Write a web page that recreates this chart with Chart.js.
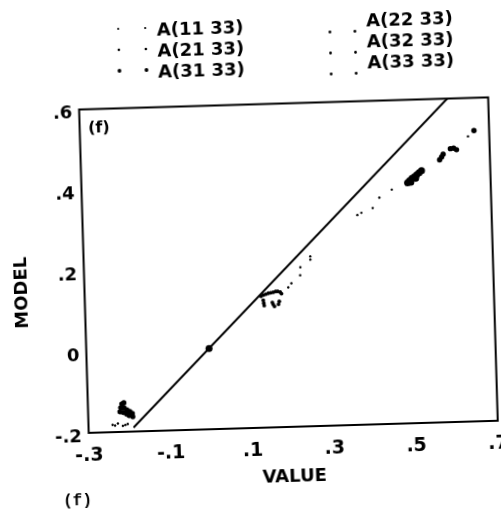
<!DOCTYPE html>
<html><head><meta charset="utf-8">
<script src="https://cdn.jsdelivr.net/npm/chart.js@4"></script>
<style>
html,body{margin:0;padding:0;background:#fff;overflow:hidden}
#wrap{width:501px;height:510px;transform:rotate(-1.7deg);transform-origin:50% 50%}
canvas{display:block}
</style></head><body>
<div id="wrap"><canvas id="c" width="501" height="510"></canvas></div>
<script>
// ---- data ----
const seriesNames = ['A(11 33)', 'A(21 33)', 'A(31 33)', 'A(22 33)', 'A(32 33)', 'A(33 33)'];

const a11X = [-0.241, -0.235, -0.228, -0.216, -0.210, -0.204, 0.198, 0.206, 0.228, 0.229, 0.254, 0.254, 0.372, 0.382, 0.410, 0.427, 0.458, 0.648];
const a11Y = [-0.182, -0.184, -0.179, -0.185, -0.183, -0.181, 0.145, 0.155, 0.174, 0.194, 0.212, 0.220, 0.319, 0.324, 0.335, 0.360, 0.379, 0.505];

const a21X = [-0.217, -0.212, -0.220, -0.212, -0.205, -0.198, -0.192, -0.222, -0.214, -0.206, -0.200, -0.191];
const a21Y = [-0.131, -0.128, -0.140, -0.140, -0.146, -0.150, -0.155, -0.150, -0.152, -0.156, -0.160, -0.163];

const a31X = [0.000];
const a31Y = [0.000];

const a22X = [0.131, 0.137, 0.143, 0.149, 0.155, 0.161, 0.167, 0.172, 0.178, 0.181, 0.136, 0.137, 0.138, 0.158, 0.160, 0.163, 0.175, 0.173];
const a22Y = [0.125, 0.128, 0.130, 0.132, 0.133, 0.134, 0.136, 0.136, 0.134, 0.130, 0.115, 0.108, 0.102, 0.109, 0.104, 0.099, 0.111, 0.104];

const a32X = [0.497, 0.502, 0.508, 0.514, 0.520, 0.526, 0.532, 0.505, 0.517];
const a32Y = [0.395, 0.400, 0.405, 0.409, 0.414, 0.419, 0.424, 0.396, 0.405];

const a33X = [0.577, 0.582, 0.586, 0.604, 0.612, 0.619, 0.663];
const a33Y = [0.449, 0.456, 0.463, 0.476, 0.477, 0.473, 0.519];

const refLineX = [-0.19, 0.60];
const refLineY = [-0.19, 0.60];

const xTickValues = [-0.3, -0.1, 0.1, 0.3, 0.5, 0.7];
const xTickLabels = ['-.3', '-.1', '.1', '.3', '.5', '.7'];
const yTickValues = [-0.2, 0, 0.2, 0.4, 0.6];
const yTickLabels = ['-.2', '0', '.2', '.4', '.6'];

const xTitle = 'VALUE';
const yTitle = 'MODEL';
const panelLabel = '(f)';
const captionLabel = '(f)';

// ---- build chart ----
const seriesX = [a11X, a21X, a31X, a22X, a32X, a33X];
const seriesY = [a11Y, a21Y, a31Y, a22Y, a32Y, a33Y];
const pointRadii = [1.2, 2.6, 3.5, 1.9, 3.5, 2.7];
const legendRadii = [1.1, 1.3, 1.9, 1.4, 1.4, 1.4];

const FAM = "'DejaVu Sans', sans-serif";

const datasets = seriesNames.map((name, i) => ({
  type: 'scatter',
  label: name,
  data: seriesX[i].map((x, j) => ({x: x, y: seriesY[i][j]})),
  pointRadius: pointRadii[i],
  pointHoverRadius: pointRadii[i],
  pointBackgroundColor: '#000',
  pointBorderColor: '#000',
  pointBorderWidth: 0,
  showLine: false
}));
datasets.push({
  type: 'line',
  label: 'y = x',
  data: refLineX.map((x, j) => ({x: x, y: refLineY[j]})),
  borderColor: '#000',
  borderWidth: 2,
  pointRadius: 0,
  fill: false,
  tension: 0
});

const extras = {
  id: 'extras',
  afterDraw(chart) {
    const {ctx, chartArea: a} = chart;
    ctx.save();
    ctx.strokeStyle = '#000';
    ctx.lineWidth = 2;
    ctx.strokeRect(a.left, a.top, a.right - a.left, a.bottom - a.top);
    ctx.fillStyle = '#000';
    // panel label
    ctx.font = "bold 16px " + FAM;
    ctx.textAlign = 'left';
    ctx.textBaseline = 'middle';
    ctx.fillText(panelLabel, a.left + 8.5, a.top + 19.5);
    // y title
    ctx.save();
    ctx.translate(21, 286);
    ctx.rotate(-Math.PI / 2);
    ctx.textAlign = 'center';
    ctx.font = "bold 18px " + FAM;
    ctx.fillText(yTitle, 0, 0);
    ctx.restore();
    // caption
    ctx.font = "bold 16px 'Liberation Mono', monospace";
    ctx.textAlign = 'left';
    ctx.fillText(captionLabel, 56, 496);
    // legend (two columns)
    const colText = [163.5, 373];
    const colMark = [[125, 152], [336.5, 361.5]];
    const rowY = [[28, 49, 70], [25.5, 46.5, 67.5]];
    const markDy = [-3, 9];
    ctx.font = "bold 18px " + FAM;
    seriesNames.forEach((name, i) => {
      const col = i < 3 ? 0 : 1, row = i % 3;
      const y = rowY[col][row];
      ctx.fillText(name, colText[col], y);
      colMark[col].forEach(mx => {
        ctx.beginPath();
        ctx.arc(mx, y + markDy[col], legendRadii[i], 0, Math.PI * 2);
        ctx.fill();
      });
    });
    ctx.restore();
  }
};

new Chart(document.getElementById('c'), {
  type: 'scatter',
  data: {datasets: datasets},
  options: {
    responsive: false,
    animation: false,
    devicePixelRatio: 1,
    layout: {padding: {top: 104.5, left: 0, right: 8.3, bottom: 0}},
    plugins: {legend: {display: false}, tooltip: {enabled: false}},
    scales: {
      x: {
        type: 'linear', min: -0.3, max: 0.7,
        grid: {display: false}, border: {display: false},
        afterBuildTicks: s => { s.ticks = xTickValues.map(v => ({value: v})); },
        afterFit: s => { s.height = 82; s.paddingLeft = 0; s.paddingRight = 0; },
        ticks: {
          font: {family: FAM, size: 19, weight: 'bold'}, color: '#000',
          padding: 4, maxRotation: 0, autoSkip: false,
          callback: (v, i) => xTickLabels[i]
        },
        title: {display: true, text: xTitle, color: '#000',
          font: {family: FAM, size: 18, weight: 'bold'}, padding: {top: 0, bottom: 21}}
      },
      y: {
        type: 'linear', min: -0.2, max: 0.6,
        grid: {display: false}, border: {display: false},
        afterBuildTicks: s => { s.ticks = yTickValues.map(v => ({value: v})); },
        afterFit: s => { s.width = 83.5; s.paddingTop = 0; s.paddingBottom = 0; },
        ticks: {
          font: {family: FAM, size: 18, weight: 'bold'}, color: '#000',
          padding: -1, labelOffset: 4, autoSkip: false,
          callback: (v, i) => yTickLabels[i]
        },
        title: {display: false}
      }
    }
  },
  plugins: [extras]
});
</script>
</body></html>
